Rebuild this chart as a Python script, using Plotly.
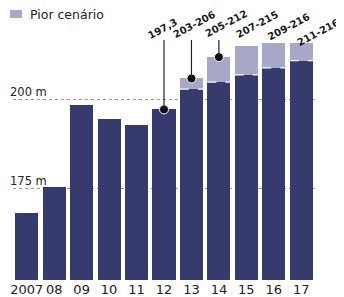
import plotly.graph_objects as go

categories = ["2007", "08", "09", "10", "11", "12", "13", "14", "15", "16", "17"]
base_values = [168.2, 175.4, 198.6, 194.6, 192.8, 197.3, 203, 205, 207, 209, 211]
worst_high = [None, None, None, None, None, None, 206, 212, 215, 216, 216]
labels = {"12": "197,3", "13": "203-206", "14": "205-212", "15": "207-215", "16": "209-216", "17": "211-216"}
callout_cats = ["12", "13", "14"]
grid_vals = [175, 200]
grid_text = ["175 m", "200 m"]
legend_name = "Pior cenário"

DARK = "#363a6c"
LIGHT = "#a7a8c8"
FONT = "DejaVu Sans"
OFF = 8  # page body margin offset
W, H = 344 - OFF, 297 - OFF
ML, MR, MT, MB = 13 - OFF, 29, 0, 17
YR = [149.4, 225.8]
BARGAP = 0.16

extra = [(h - b) if h is not None else None for b, h in zip(base_values, worst_high)]
tops = {c: (h if h is not None else b) for c, b, h in zip(categories, base_values, worst_high)}

pw = W - ML - MR
ph = H - MT - MB


def px_x(px):
    return (px - OFF - ML) / pw


def px_y(py):
    return 1 - (py - OFF - MT) / ph


fig = go.Figure()
fig.add_trace(go.Bar(x=categories, y=base_values, marker=dict(color=DARK, line=dict(width=0)),
                     showlegend=False, hoverinfo="skip"))
fig.add_trace(go.Bar(x=categories, y=extra, marker=dict(color=LIGHT, line=dict(width=0)),
                     name=legend_name, showlegend=False, hoverinfo="skip"))

# white dashed separators between base and worst-case portions
half = (1 - BARGAP) / 2
for i, (b, h) in enumerate(zip(base_values, worst_high)):
    if h is not None:
        fig.add_shape(type="line", xref="x", yref="y", x0=i - half, x1=i + half, y0=b, y1=b,
                      line=dict(color="white", width=1.2, dash="dash"), layer="above")

# callout lines (category index positions)
line_top = 216.8
for c in callout_cats:
    i = categories.index(c)
    fig.add_shape(type="line", xref="x", yref="y", x0=i, x1=i, y0=tops[c], y1=line_top,
                  line=dict(color="#222", width=1.2), layer="above")

fig.add_trace(go.Scatter(x=callout_cats, y=[tops[c] for c in callout_cats], mode="markers",
                         marker=dict(color="#111", size=9, line=dict(color="white", width=1)),
                         showlegend=False, hoverinfo="skip"))

# rotated value labels (pixel centres in the reference page)
label_pos = {"12": (163, 29), "13": (194, 24), "14": (226, 23), "15": (257, 24), "16": (289, 27), "17": (318, 32)}
for c, t in labels.items():
    px, py = label_pos[c]
    fig.add_annotation(text="<b>" + t + "</b>", xref="paper", yref="paper",
                       x=px_x(px), y=px_y(py), xanchor="center", yanchor="middle",
                       textangle=-28, showarrow=False, font=dict(family=FONT, size=10, color="#1a1a1a"))

for v, t in zip(grid_vals, grid_text):
    fig.add_annotation(text=t, xref="paper", yref="y", x=px_x(8), y=v, xanchor="left",
                       yanchor="bottom", yshift=-1, showarrow=False,
                       font=dict(family=FONT, size=11.5, color="#222"))

# legend (manual)
fig.add_shape(type="rect", xref="paper", yref="paper", x0=px_x(10), x1=px_x(22),
              y0=px_y(18), y1=px_y(10), fillcolor=LIGHT, line=dict(width=0))
fig.add_annotation(text=legend_name, xref="paper", yref="paper", x=px_x(28), y=px_y(14),
                   xanchor="left", yanchor="middle", showarrow=False,
                   font=dict(family=FONT, size=12.5, color="#222"))

fig.update_layout(
    width=W, height=H, margin=dict(l=ML, r=MR, t=MT, b=MB, autoexpand=False),
    paper_bgcolor="white", plot_bgcolor="white",
    barmode="stack", bargap=BARGAP,
    font=dict(family=FONT, color="#222"),
    showlegend=False,
    xaxis=dict(type="category", showgrid=False, showline=False, ticks="", tickangle=0,
               automargin=False, tickfont=dict(family=FONT, size=13, color="#222"),
               range=[-0.5, 10.5]),
    yaxis=dict(range=YR, tickvals=grid_vals, showticklabels=False, showgrid=True, automargin=False,
               gridcolor="#999", griddash="dot", gridwidth=1, zeroline=False, showline=False),
)

fig.write_html("out.html")
